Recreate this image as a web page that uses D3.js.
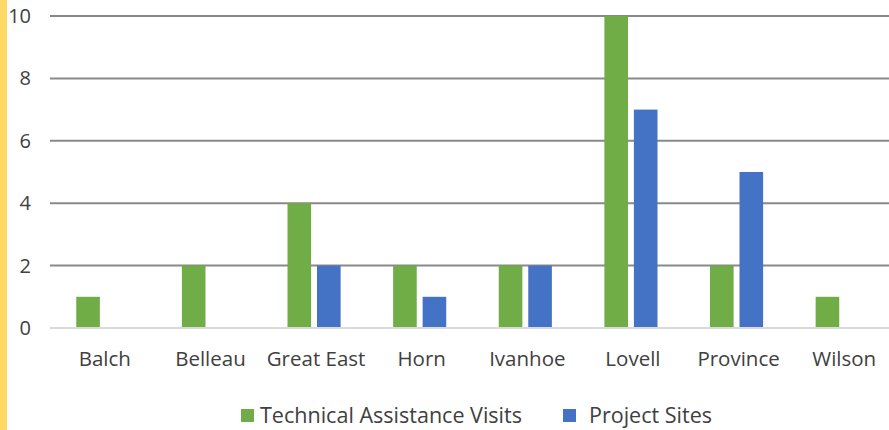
<!DOCTYPE html>
<html>
<head>
<meta charset="utf-8">
<script src="https://cdn.jsdelivr.net/npm/d3@7"></script>
<style>
  body { margin: 0; background: #fff; overflow: hidden; }
  svg { display: block; font-family: 'Open Sans', Lato, sans-serif; }
</style>
</head>
<body>
<div id="chart"></div>
<script>
const categories = ['Balch', 'Belleau', 'Great East', 'Horn', 'Ivanhoe', 'Lovell', 'Province', 'Wilson'];
const visits = [1, 2, 4, 2, 2, 10, 2, 1];
const sites = [0, 0, 2, 1, 2, 7, 5, 0];
const seriesNames = ['Technical Assistance Visits', 'Project Sites'];
const yTicks = [0, 2, 4, 6, 8, 10];

const width = 889;
const height = 430;
const margin = { top: 16, right: -6, bottom: 102, left: 50 };
const innerWidth = width - margin.left - margin.right;
const innerHeight = height - margin.top - margin.bottom;
const colors = ['#70AD47', '#4472C4'];
const textColor = '#404040';

const svg = d3.select('#chart').append('svg')
  .attr('width', width)
  .attr('height', height);

// yellow stripe on the left edge
svg.append('rect').attr('x', 0).attr('y', 0).attr('width', 7).attr('height', height).attr('fill', '#FFD966');

const g = svg.append('g').attr('transform', `translate(${margin.left},${margin.top})`);

const x = d3.scaleBand().domain(categories).range([0, innerWidth]).paddingInner(0).paddingOuter(0);
const x1 = d3.scaleBand().domain(seriesNames).range([0, x.bandwidth()]).paddingInner(0.2).paddingOuter(0.89);
const y = d3.scaleLinear().domain([0, 10]).range([innerHeight, 0]);

// gridlines
g.selectAll('.grid').data(yTicks).enter().append('line')
  .attr('x1', 0).attr('x2', innerWidth)
  .attr('y1', d => y(d)).attr('y2', d => y(d))
  .attr('stroke', d => d === 0 ? '#d9d9d9' : '#898989')
  .attr('stroke-width', 2);

// y labels
g.selectAll('.ylab').data(yTicks).enter().append('text')
  .attr('x', -19).attr('y', d => y(d)).attr('dy', '0.35em')
  .attr('text-anchor', 'end').attr('font-size', 20).attr('fill', textColor)
  .text(d => d);

// bars
const rows = categories.map((c, i) => ({ cat: c, vals: [visits[i], sites[i]] }));
const groups = g.selectAll('.cat').data(rows).enter().append('g')
  .attr('transform', d => `translate(${x(d.cat)},0)`);
groups.selectAll('rect').data(d => d.vals.map((v, k) => ({ v, k })).filter(e => e.v > 0)).enter().append('rect')
  .attr('x', d => x1(seriesNames[d.k]))
  .attr('width', x1.bandwidth())
  .attr('y', d => y(d.v))
  .attr('height', d => y(0) - y(d.v) - 1)
  .attr('fill', d => colors[d.k]);

// x labels
g.selectAll('.xlab').data(categories).enter().append('text')
  .attr('x', d => x(d) + x.bandwidth() / 2 + 2)
  .attr('y', innerHeight + 38)
  .attr('text-anchor', 'middle').attr('font-size', 20.5).attr('fill', textColor)
  .text(d => d);

// legend
const legendItems = [
  { name: seriesNames[0], color: colors[0], sx: 241, tx: 260, w: 262 },
  { name: seriesNames[1], color: colors[1], sx: 563, tx: 589, w: 123 }
];
const lg = svg.append('g');
lg.selectAll('rect').data(legendItems).enter().append('rect')
  .attr('x', d => d.sx).attr('y', 409).attr('width', 13).attr('height', 13)
  .attr('fill', d => d.color);
lg.selectAll('text').data(legendItems).enter().append('text')
  .attr('x', d => d.tx).attr('y', 423)
  .attr('font-size', 21).attr('fill', textColor)
  .attr('textLength', d => d.w).attr('lengthAdjust', 'spacingAndGlyphs')
  .text(d => d.name);
</script>
</body>
</html>
